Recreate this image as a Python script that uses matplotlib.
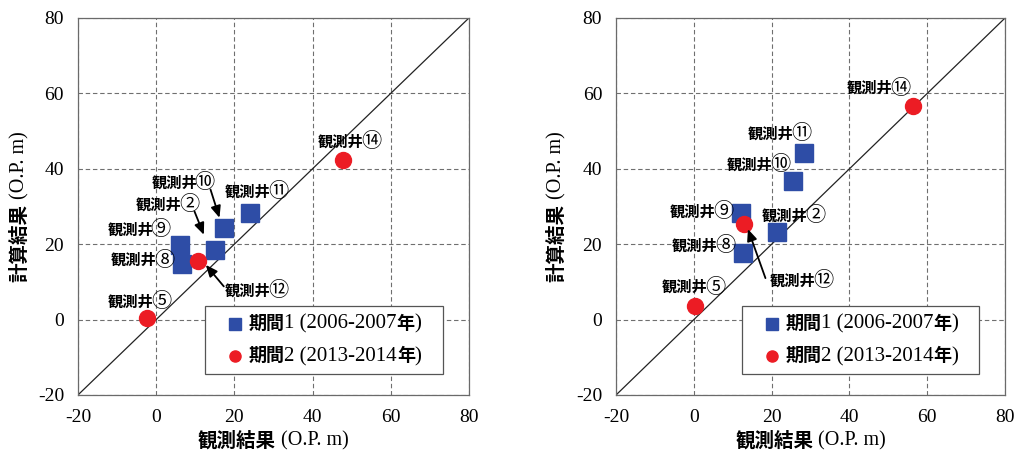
import matplotlib
matplotlib.use("Agg")
import matplotlib.pyplot as plt
from matplotlib.lines import Line2D
from matplotlib.patches import Rectangle
from matplotlib.transforms import IdentityTransform
from matplotlib.offsetbox import (AnchoredOffsetbox, HPacker, VPacker,
                                  TextArea, DrawingArea)

plt.rcParams["axes.unicode_minus"] = False

# ---- data ----
wells_p1 = ["観測井⑨", "観測井⑧", "観測井②", "観測井⑩", "観測井⑪"]
wells_p2 = ["観測井⑤", "観測井⑫", "観測井⑭"]

left_p1_obs = [6.1, 6.7, 15.1, 17.4, 23.9]
left_p1_calc = [19.8, 14.8, 18.4, 24.2, 28.2]
left_p2_obs = [-2.3, 10.6, 47.8]
left_p2_calc = [0.3, 15.6, 42.4]

right_p1_obs = [12.2, 12.6, 21.3, 25.4, 28.3]
right_p1_calc = [28.4, 17.6, 23.2, 36.8, 44.2]
right_p2_obs = [0.4, 13.0, 56.4]
right_p2_calc = [3.6, 25.4, 56.7]

ticks = [-20, 0, 20, 40, 60, 80]
legend_cjk = ["期間", "期間"]
legend_mid = ["1 (2006-2007", "2 (2013-2014"]
x_label = ("観測結果", " (O.P. m)")
y_label = ("計算結果", " (O.P. m)")
well_prefix = "観測井"

# label text centres and optional arrows (head, tail)
left_labels = [
    ("⑭", 49.5, 47.3, None, None),
    ("⑪", 25.6, 34.0, None, None),
    ("⑩", 6.9, 36.4, (16.2, 27.0), (13.9, 34.5)),
    ("②", 3.0, 30.4, (12.2, 22.5), (9.8, 28.7)),
    ("⑨", -4.4, 23.8, None, None),
    ("⑧", -3.4, 15.8, None, None),
    ("⑤", -4.2, 4.8, None, None),
    ("⑫", 25.6, 7.7, (12.7, 14.5), (17.3, 8.8)),
]
right_labels = [
    ("⑭", 47.4, 61.4, None, None),
    ("⑪", 22.0, 49.3, None, None),
    ("⑩", 16.6, 41.1, None, None),
    ("⑨", 2.0, 28.7, None, None),
    ("②", 25.6, 27.5, None, None),
    ("⑧", 2.5, 19.6, None, None),
    ("⑤", -0.1, 8.6, None, None),
    ("⑫", 27.7, 10.4, (13.9, 24.0), (18.4, 11.0)),
]

BLUE = "#2E4DA6"
RED = "#EC1C24"
SERIF = ["Liberation Serif", "DejaVu Serif"]
CJK = ["Noto Sans CJK JP", "DejaVu Sans"]

fig = plt.figure(figsize=(10.23, 4.57), dpi=100)
renderer = fig.canvas.get_renderer()
ax1 = fig.add_axes([0.0762, 0.1357, 0.3822, 0.825])
ax2 = fig.add_axes([0.6022, 0.1357, 0.3803, 0.825])


def place_pieces(xc, yc, pieces, rotation=0, zorder=6, gap=0.0):
    """Place text pieces (string, props) side by side, centred at display (xc, yc)."""
    texts = []
    for s, props in pieces:
        p = dict(props)
        va = p.pop("va", "center")
        t = fig.text(0, 0, s, transform=IdentityTransform(), ha="left", va=va,
                     rotation=rotation, rotation_mode="anchor", zorder=zorder, **p)
        texts.append(t)
    sizes = []
    for t in texts:
        bb = t.get_window_extent(renderer)
        sizes.append((bb.width if rotation == 0 else bb.height) + gap)
    sizes[-1] -= gap
    pos = -sum(sizes) / 2.0
    for t, w in zip(texts, sizes):
        if rotation == 0:
            t.set_position((xc + pos, yc))
        else:
            t.set_position((xc, yc + pos))
        pos += w
    return texts


def draw(ax, p1x, p1y, p2x, p2y, labels, ylabel_x):
    ax.set_xlim(ticks[0], ticks[-1])
    ax.set_ylim(ticks[0], ticks[-1])
    ax.set_xticks(ticks)
    ax.set_yticks(ticks)
    ax.grid(True, color="#6f6f6f", linestyle=(0, (4, 2.5)), linewidth=0.8)
    ax.set_axisbelow(True)
    for s in ax.spines.values():
        s.set_color("#6a6a6a")
        s.set_linewidth(0.9)
    ax.tick_params(length=0, pad=10, labelsize=14)
    for lab in ax.get_xticklabels() + ax.get_yticklabels():
        lab.set_family(SERIF)
    ax.plot([ticks[0], ticks[-1]], [ticks[0], ticks[-1]], color="#222222", lw=0.9, zorder=2)
    ax.plot(p1x, p1y, linestyle="none", marker="s", ms=12.5, color=BLUE, mec=BLUE, zorder=3)
    ax.plot(p2x, p2y, linestyle="none", marker="o", ms=11.5, color=RED, mec=RED, zorder=4)

    # well labels
    for num, tx, ty, head, tail in labels:
        xc, yc = ax.transData.transform((tx, ty))
        place_pieces(xc, yc, [
            (well_prefix, dict(family=CJK, fontsize=11, fontweight="bold")),
            (num, dict(family=CJK, fontsize=14.5)),
        ], gap=-2.5)
        if head is not None:
            ax.annotate("", xy=head, xytext=tail,
                        arrowprops=dict(arrowstyle="-|>,head_length=0.7,head_width=0.3",
                                        color="black", lw=1.3, shrinkA=0, shrinkB=0),
                        zorder=6)

    # axis labels (bold gothic + serif)
    bb = ax.get_window_extent(renderer)
    xc = (bb.x0 + bb.x1) / 2.0
    place_pieces(xc, 16, [
        (x_label[0], dict(family=CJK, fontsize=14, fontweight="bold")),
        (x_label[1], dict(family=SERIF, fontsize=14.5)),
    ])
    yc = (bb.y0 + bb.y1) / 2.0
    place_pieces(ylabel_x, yc, [
        (y_label[0], dict(family=CJK, fontsize=14, fontweight="bold")),
        (y_label[1], dict(family=SERIF, fontsize=14.5)),
    ], rotation=90)

    # legend box
    x0, y0, w, h = 0.325, 0.056, 0.608, 0.180
    ax.add_patch(Rectangle((x0, y0), w, h, transform=ax.transAxes, facecolor="white",
                           edgecolor="#555555", lw=0.9, zorder=7))
    rows = []
    for marker, color, ms, cjk, mid in [("s", BLUE, 9, legend_cjk[0], legend_mid[0]),
                                        ("o", RED, 8, legend_cjk[1], legend_mid[1])]:
        da = DrawingArea(13, 13, 0, 0)
        da.add_artist(Line2D([6.5], [6.5], marker=marker, ms=ms, color=color,
                             mec=color, linestyle="none"))
        txt = HPacker(children=[
            TextArea(cjk, textprops=dict(family=CJK, fontsize=13, fontweight="bold")),
            TextArea(mid, textprops=dict(family=SERIF, fontsize=15)),
            TextArea("年", textprops=dict(family=CJK, fontsize=13, fontweight="bold")),
            TextArea(")", textprops=dict(family=SERIF, fontsize=15)),
        ], align="baseline", pad=0, sep=0)
        rows.append(HPacker(children=[da, txt], align="center", pad=0, sep=3))
    box = VPacker(children=rows, align="left", pad=0, sep=9)
    anch = AnchoredOffsetbox(loc="center", child=box, pad=0, borderpad=0, frameon=False,
                             bbox_to_anchor=(x0, y0, w, h), bbox_transform=ax.transAxes)
    anch.set_zorder(8)
    ax.add_artist(anch)


draw(ax1, left_p1_obs, left_p1_calc, left_p2_obs, left_p2_calc, left_labels, 20)
draw(ax2, right_p1_obs, right_p1_calc, right_p2_obs, right_p2_calc, right_labels, 557)

fig.savefig("out.png", dpi=100, facecolor="white")
